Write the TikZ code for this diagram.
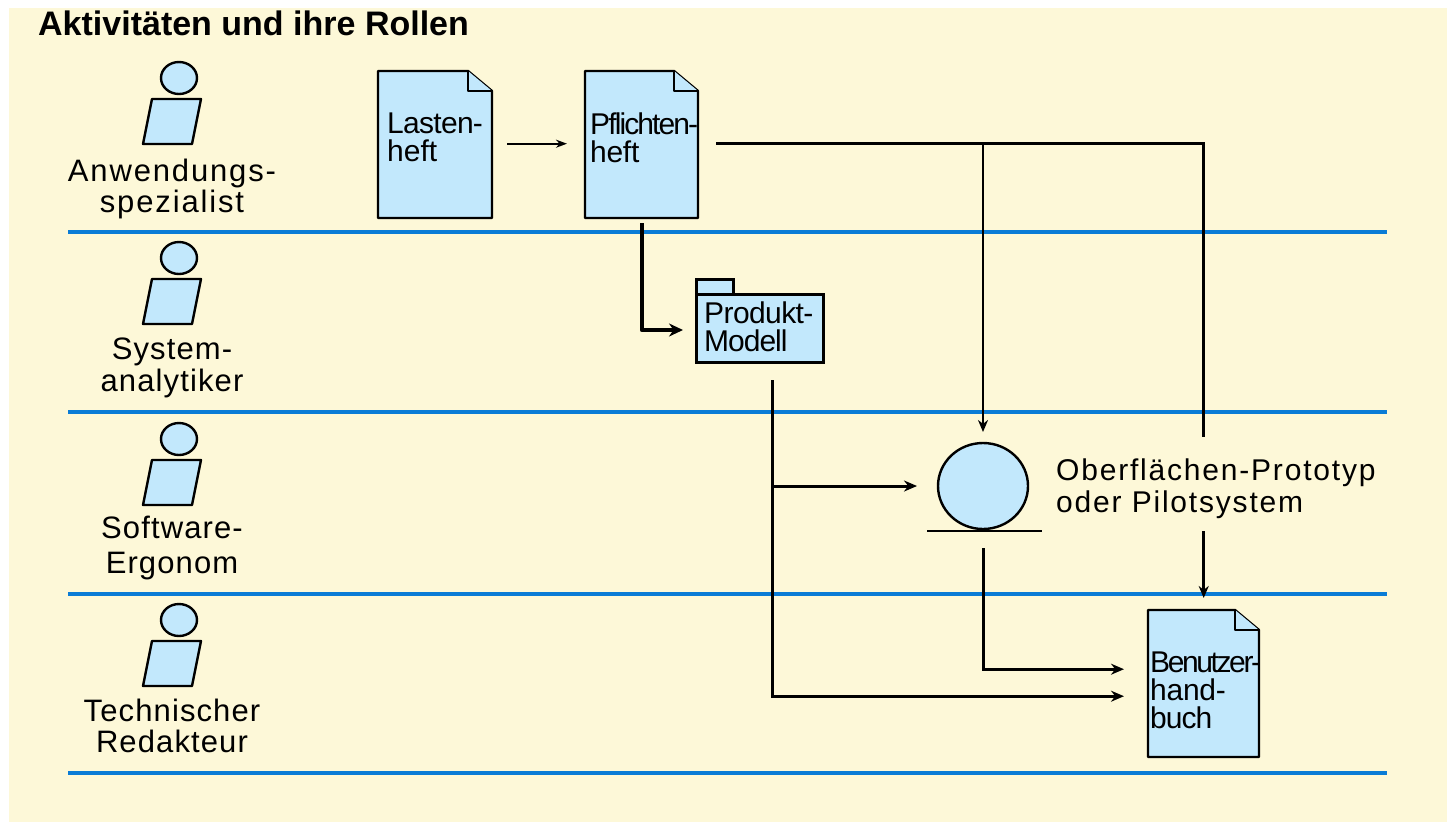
\documentclass[tikz,border=0pt]{standalone}
\usepackage{fontspec}
\setmainfont{Liberation Sans}
\newfontfamily\widefont[LetterSpace=6]{Liberation Sans}
\newfontfamily\rolefont[LetterSpace=3.6]{Liberation Sans}
\newcommand{\trk}[2]{{\addfontfeature{LetterSpace=#1}#2}}
\definecolor{paper}{HTML}{FDF8D8}
\definecolor{skyfill}{HTML}{C2E8FC}
\definecolor{laneblue}{HTML}{0A7CD6}
\usetikzlibrary{arrows.meta,shapes.geometric}
\tikzset{
  shapeline/.style={draw=black,fill=skyfill,line width=2.4pt,line join=round},
  lane/.style={draw=laneblue,line width=4.5pt},
  rolelabel/.style={font=\fontsize{31}{31}\selectfont\rolefont,align=center,inner sep=0pt},
  doclabel/.style={font=\fontsize{30}{28}\selectfont,align=left,inner sep=0pt,anchor=north west},
  flow/.style={draw=black,line width=3pt,-{Stealth[length=13pt,width=11pt]}},
  flowthin/.style={draw=black,line width=2pt,-{Stealth[length=11pt,width=8pt]}},
  flowthick/.style={draw=black,line width=4pt,-{Stealth[length=14pt,width=13pt]},line join=round},
  plainflow/.style={draw=black,line width=2.5pt},
  slimflow/.style={draw=black,line width=2.5pt,-{Stealth[length=12pt,width=10pt]}},
}
\newcommand{\person}[1]{%
  \draw[shapeline] (179,#1) ellipse [x radius=18,y radius=16];
  \draw[shapeline] (152,#1+21) -- (201,#1+21) -- (192,#1+66) -- (143,#1+66) -- cycle;
}
\newcommand{\docpage}[5]{% name x y w h
  \draw[shapeline] (#2,#3) -- (#2+#4-24,#3) -- (#2+#4,#3+20) -- (#2+#4,#3+#5) -- (#2,#3+#5) -- cycle;
  \draw[shapeline] (#2+#4-24,#3) -- (#2+#4-24,#3+20) -- (#2+#4,#3+20);
  \node[inner sep=0pt,minimum width=#4pt,minimum height=#5pt,anchor=north west] (#1) at (#2,#3) {};
}
\begin{document}
\begin{tikzpicture}[x=1pt,y=-1pt]
\useasboundingbox (0,0) rectangle (1447,822);
\fill[white] (0,0) rectangle (1447,822);
\fill[paper] (9,8) rectangle (1447,822);
\node[font=\fontsize{34}{36}\selectfont\bfseries,anchor=base west,inner sep=0pt] (title) at (38,35) {Aktivitäten und ihre Rollen};
% lanes
\draw[lane] (68,232) -- (1387,232);
\draw[lane] (68,412) -- (1387,412);
\draw[lane] (68,594) -- (1387,594);
\draw[lane] (68,773) -- (1387,773);
% persons
\person{78}
\person{258}
\person{439}
\person{620}
\node[rolelabel,font=\fontsize{31}{31}\selectfont\widefont] (r1) at (172,189) {Anwendungs-\\spezialist};
\node[rolelabel] (r2) at (172,368) {System-\\[1pt]analytiker};
\node[rolelabel] (r3) at (172,548) {Software-\\[4pt]Ergonom};
\node[rolelabel] (r4) at (172,726) {Technischer\\Redakteur};
% documents
\docpage{lasten}{378}{71}{114}{147}
\docpage{pflichten}{585}{71}{113}{147}
\docpage{handbuch}{1148}{610}{111}{147}
\node[doclabel] (tl) at (387,113) {\trk{-2.4}{Lasten-}\\heft};
\node[doclabel] (tp) at (590,113) {\trk{-6.3}{Pflichten-}\\\trk{-1}{heft}};
\node[doclabel] (th) at (1150,651.5) {\trk{-8}{Benutzer-}\\\trk{-1}{hand-}\\\trk{-3.3}{buch}};
% folder
\draw[draw=black,fill=skyfill,line width=3pt] (696,279) rectangle (733,294);
\node[draw=black,fill=skyfill,line width=3pt,outer sep=0pt,minimum width=127pt,minimum height=68pt,inner sep=0pt,anchor=north west] (modell) at (696,294) {};
\node[doclabel] (tm) at (704,301.5) {\trk{-2}{Produkt-}\\\trk{-3.4}{Modell}};
% prototype
\node[shapeline,ellipse,outer sep=0pt,minimum width=90pt,minimum height=86pt,inner sep=0pt] (proto) at (983,486) {};
\draw[draw=black,line width=2.4pt] (927,531) -- (1042,531);
\node[font=\fontsize{30}{32}\selectfont\widefont,align=left,anchor=west,inner ysep=0pt,inner xsep=0pt,minimum height=94pt] (tproto) at (1056,489) {Oberflächen-Prototyp\\oder Pilotsystem};
% connectors
\draw[flowthin,shorten <=15pt,shorten >=18pt] ([yshift=1pt]lasten.east) -- ([yshift=1pt]pflichten.west);
\draw[plainflow,shorten <=18pt] ([yshift=1pt]pflichten.east) -| ([yshift=5pt]tproto.north -| handbuch.north);
\draw[slimflow,shorten >=12pt] ([yshift=5pt]tproto.south -| handbuch.north) -- (handbuch.north);
\draw[slimflow,shorten >=11pt] ([yshift=1pt]pflichten.east -| proto.north) -- (proto.north);
\draw[flowthick,shorten <=5pt,shorten >=13pt] (pflichten.south) |- ([yshift=-2pt]modell.west);
\coordinate (drop) at ([xshift=12.5pt]modell.south);
\draw[flow,shorten <=18pt,shorten >=24pt] (drop) |- ([yshift=-12.5pt]handbuch.west);
\draw[flow,shorten >=21pt] (drop |- proto.west) -- (proto.west);
\draw[flow,shorten <=19pt,shorten >=24pt] (proto.south) |- ([yshift=14.5pt]handbuch.west);
\end{tikzpicture}
\end{document}
